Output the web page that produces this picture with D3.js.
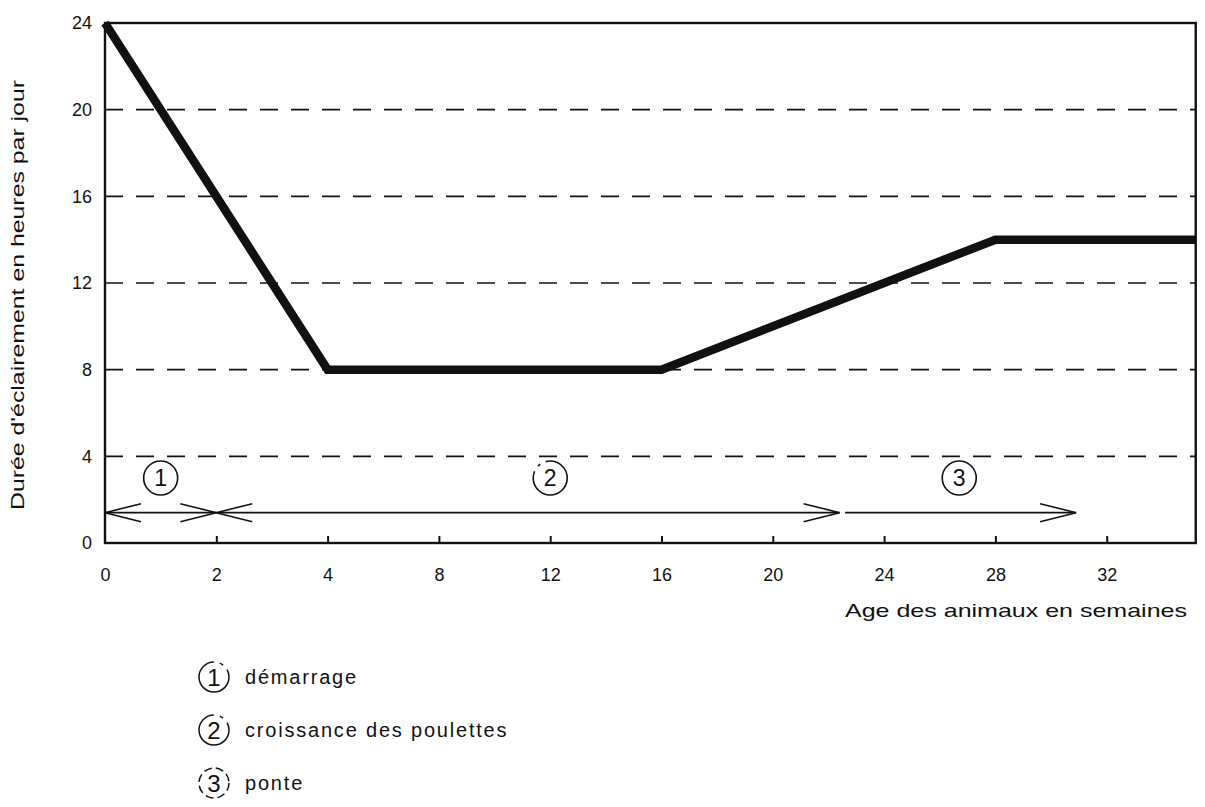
<!DOCTYPE html>
<html>
<head>
<meta charset="utf-8">
<script src="https://cdn.jsdelivr.net/npm/d3@7"></script>
<style>
    body { margin: 0; background: #fff; }
    text { font-family: "Liberation Sans", Arial, sans-serif; fill: #111; }
</style>
</head>
<body>
<svg id="chart"></svg>
<script>
// weeks where ticks sit on the (non uniform) x axis
const xTicks = [0, 2, 4, 8, 12, 16, 20, 24, 28, 32];
const yTicks = [0, 4, 8, 12, 16, 20, 24];
const gridValues = [4, 8, 12, 16, 20];

// lighting programme: weeks, hours per day
const weeks = [0, 4, 16, 28, 35.2];
const hours = [24, 8, 8, 14, 14];

// phases drawn as arrows under the curve
const phaseIds = ['1', '2', '3'];
const phaseStart = [0, 2, 22.6];
const phaseEnd = [2, 22.4, 30.9];
const phaseLabelAt = [1, 12, 26.7];
const phaseLeftHead = [true, true, false];
const phaseNames = ['démarrage', 'croissance des poulettes', 'ponte'];

const config = {
    width: 1205,
    height: 807,
    left: 105,
    top: 23,
    bottom: 543,
    lineWidth: 8.5,
    ink: '#111',
    font: '"Liberation Sans", Arial, sans-serif'
};

const svg = d3.select('#chart')
    .attr('width', config.width)
    .attr('height', config.height);

// piecewise scale: 2 weeks per step up to 4, then 4 weeks per step
const step = 111.3;
const xScale = d3.scaleLinear()
    .domain([0, 2, 4, 36])
    .range([config.left, config.left + step, config.left + 2 * step, config.left + 10 * step]);

const yScale = d3.scaleLinear()
    .domain([0, 24])
    .range([config.bottom, config.top]);

const xMax = weeks[weeks.length - 1];

// dashed grid lines
svg.append('g')
    .selectAll('line')
    .data(gridValues)
    .join('line')
    .attr('x1', config.left)
    .attr('x2', xScale(xMax))
    .attr('y1', d => yScale(d))
    .attr('y2', d => yScale(d))
    .attr('stroke', config.ink)
    .attr('stroke-width', 1.6)
    .attr('stroke-dasharray', '18 13');

// frame
svg.append('rect')
    .attr('x', config.left)
    .attr('y', config.top)
    .attr('width', xScale(xMax) - config.left)
    .attr('height', config.bottom - config.top)
    .attr('fill', 'none')
    .attr('stroke', config.ink)
    .attr('stroke-width', 2.4);

// bottom axis: short inner ticks, labels below
const xAxis = d3.axisBottom(xScale)
    .tickValues(xTicks)
    .tickSize(-7)
    .tickPadding(25)
    .tickFormat(d => d);

const xAxisG = svg.append('g')
    .attr('transform', `translate(0,${config.bottom})`)
    .call(xAxis);
xAxisG.select('.domain').remove();
xAxisG.selectAll('.tick line').attr('stroke', config.ink).attr('stroke-width', 2)
    .filter(d => d === 0).remove();
xAxisG.selectAll('.tick text').attr('font-size', 18).attr('font-family', config.font).attr('fill', config.ink);

const yAxis = d3.axisLeft(yScale)
    .tickValues(yTicks)
    .tickSize(0)
    .tickPadding(13);

const yAxisG = svg.append('g')
    .attr('transform', `translate(${config.left},0)`)
    .call(yAxis);
yAxisG.select('.domain').remove();
yAxisG.selectAll('.tick text').attr('font-size', 18).attr('font-family', config.font).attr('fill', config.ink);

// axis titles
svg.append('text')
    .attr('transform', `translate(24,${(config.top + config.bottom) / 2 + 12}) rotate(-90)`)
    .attr('text-anchor', 'middle')
    .attr('font-size', 18)
    .attr('textLength', 430)
    .attr('lengthAdjust', 'spacingAndGlyphs')
    .text("Durée d'éclairement en heures par jour");

svg.append('text')
    .attr('x', 1187)
    .attr('y', 617)
    .attr('text-anchor', 'end')
    .attr('font-size', 19)
    .attr('textLength', 342)
    .attr('lengthAdjust', 'spacingAndGlyphs')
    .text('Age des animaux en semaines');

// the lighting curve
const line = d3.line()
    .x(d => xScale(d[0]))
    .y(d => yScale(d[1]));

svg.append('path')
    .datum(d3.zip(weeks, hours))
    .attr('d', line)
    .attr('fill', 'none')
    .attr('stroke', config.ink)
    .attr('stroke-width', config.lineWidth)
    .attr('stroke-linejoin', 'miter');

// phase arrows
const arrowY = yScale(1.4);
const headLen = 36;
const headHalf = 9;

phaseIds.forEach((id, i) => {
    const x1 = xScale(phaseStart[i]);
    const x2 = xScale(phaseEnd[i]);
    const g = svg.append('g')
        .attr('stroke', config.ink)
        .attr('fill', 'none')
        .attr('stroke-width', 1.6);

    g.append('line')
        .attr('x1', x1).attr('x2', x2)
        .attr('y1', arrowY).attr('y2', arrowY);

    // right head for every arrow
    g.append('path')
        .attr('d', `M${x2 - headLen},${arrowY - headHalf} L${x2},${arrowY} L${x2 - headLen},${arrowY + headHalf}`);

    if (phaseLeftHead[i]) {
        g.append('path')
            .attr('d', `M${x1 + headLen},${arrowY - headHalf} L${x1},${arrowY} L${x1 + headLen},${arrowY + headHalf}`);
    }

    // circled number above the arrow
    const cx = xScale(phaseLabelAt[i]);
    const cy = yScale(3);
    svg.append('circle')
        .attr('cx', cx).attr('cy', cy).attr('r', 17)
        .attr('fill', 'none')
        .attr('stroke', config.ink)
        .attr('stroke-width', 1.6)
        .attr('stroke-dasharray', i === 1 ? '60 6 3 6' : null);
    svg.append('text')
        .attr('x', cx).attr('y', cy + 8)
        .attr('text-anchor', 'middle')
        .attr('font-size', 23)
        .text(id);
});

// legend
const legend = svg.append('g')
    .selectAll('g')
    .data(phaseIds)
    .join('g')
    .attr('transform', (d, i) => `translate(214,${677 + i * 53})`);

legend.append('circle')
    .attr('r', 15)
    .attr('fill', 'none')
    .attr('stroke', config.ink)
    .attr('stroke-width', 1.5)
    .attr('stroke-dasharray', (d, i) => i === 2 ? '8 4' : '70 6 4 6');

legend.append('text')
    .attr('y', 9)
    .attr('text-anchor', 'middle')
    .attr('font-size', 24)
    .text(d => d);

legend.append('text')
    .attr('x', 31)
    .attr('y', 7)
    .attr('font-size', 20)
    .attr('letter-spacing', 1.8)
    .text((d, i) => phaseNames[i]);
</script>
</body>
</html>
